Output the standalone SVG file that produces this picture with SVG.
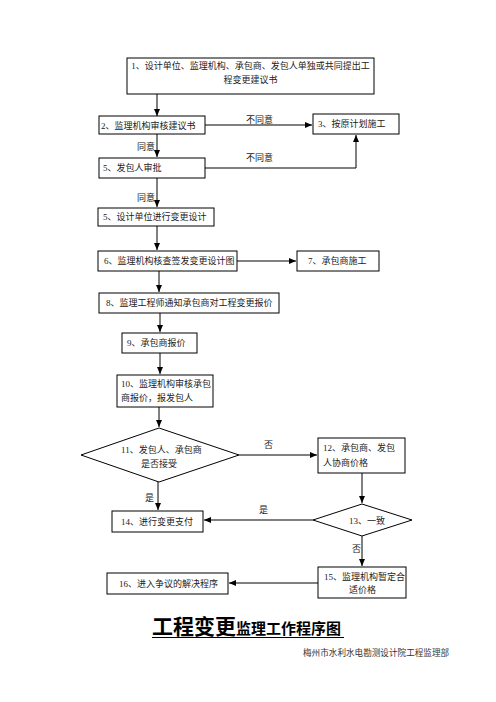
<svg xmlns="http://www.w3.org/2000/svg" width="496" height="702" viewBox="0 0 496 702">
<style>
.b{fill:#fff;stroke:#000;stroke-width:1}
.t{font-family:"Liberation Serif","Noto Sans CJK SC",serif;font-size:9px;fill:#222}
.l{fill:none;stroke:#000;stroke-width:1}
</style>
<defs>
<marker id="a" markerUnits="userSpaceOnUse" markerWidth="8" markerHeight="7" refX="7" refY="3" orient="auto">
<path d="M0,0 L7,3 L0,6 z" fill="#000"/>
</marker>
</defs>
<rect width="496" height="702" fill="#fff"/>
<g id="connectors">
<path class="l" d="M157,94 V116" marker-end="url(#a)"/>
<path class="l" d="M205,125 H312" marker-end="url(#a)"/>
<path class="l" d="M157,134 V157" marker-end="url(#a)"/>
<path class="l" d="M205,168 H356 V135" marker-end="url(#a)"/>
<path class="l" d="M157,178 V207" marker-end="url(#a)"/>
<path class="l" d="M157,226 V250" marker-end="url(#a)"/>
<path class="l" d="M237,261 H296" marker-end="url(#a)"/>
<path class="l" d="M159,271 V292" marker-end="url(#a)"/>
<path class="l" d="M160,313 V332" marker-end="url(#a)"/>
<path class="l" d="M160,353 V374" marker-end="url(#a)"/>
<path class="l" d="M159,407 V427" marker-end="url(#a)"/>
<path class="l" d="M239,455 H317" marker-end="url(#a)"/>
<path class="l" d="M362,473 V503" marker-end="url(#a)"/>
<path class="l" d="M158,482 V510" marker-end="url(#a)"/>
<path class="l" d="M313,520 H204" marker-end="url(#a)"/>
<path class="l" d="M362,536 V566" marker-end="url(#a)"/>
<path class="l" d="M318,583 H229" marker-end="url(#a)"/>
<text class="t" x="246" y="123">不同意</text>
<text class="t" x="246" y="161">不同意</text>
<text class="t" x="137" y="150">同意</text>
<text class="t" x="137" y="201">同意</text>
<text class="t" x="264" y="448">否</text>
<text class="t" x="145" y="501">是</text>
<text class="t" x="259" y="513">是</text>
<text class="t" x="352" y="552">否</text>
</g>
<g id="n1"><rect class="b" x="127" y="58" width="247" height="36"/>
<text class="t" x="250.5" y="69" text-anchor="middle">1、设计单位、监理机构、承包商、发包人单独或共同提出工</text>
<text class="t" x="250.5" y="83" text-anchor="middle">程变更建议书</text></g>
<g id="n2"><rect class="b" x="99" y="116" width="106" height="18"/>
<text class="t" x="101" y="128.5">2、监理机构审核建议书</text></g>
<g id="n3"><rect class="b" x="313" y="114" width="86" height="20"/>
<text class="t" x="318" y="127">3、按原计划施工</text></g>
<g id="n4"><rect class="b" x="99" y="158" width="106" height="20"/>
<text class="t" x="103" y="171">5、发包人审批</text></g>
<g id="n5"><rect class="b" x="98" y="208" width="116" height="18"/>
<text class="t" x="103" y="220">5、设计单位进行变更设计</text></g>
<g id="n6"><rect class="b" x="98" y="251" width="139" height="20"/>
<text class="t" x="104" y="264">6、监理机构核查签发变更设计图</text></g>
<g id="n7"><rect class="b" x="297" y="251" width="82" height="20"/>
<text class="t" x="308" y="264">7、承包商施工</text></g>
<g id="n8"><rect class="b" x="99" y="293" width="180" height="20"/>
<text class="t" x="106" y="306">8、监理工程师通知承包商对工程变更报价</text></g>
<g id="n9"><rect class="b" x="122" y="333" width="75" height="20"/>
<text class="t" x="127" y="346">9、承包商报价</text></g>
<g id="n10"><rect class="b" x="117" y="375" width="96" height="32"/>
<text class="t" x="121" y="387">10、监理机构审核承包</text>
<text class="t" x="121" y="401">商报价，报发包人</text></g>
<g id="n11"><polygon class="b" points="159,428 239,455 159,482 81,455"/>
<text class="t" x="121" y="453">11、发包人、承包商</text>
<text class="t" x="141" y="467">是否接受</text></g>
<g id="n12"><rect class="b" x="318" y="438" width="87" height="35"/>
<text class="t" x="323" y="451">12、承包商、发包</text>
<text class="t" x="323" y="466">人协商价格</text></g>
<g id="n13"><polygon class="b" points="362,504 412,520 362,536 313,520"/>
<text class="t" x="349" y="524">13、一致</text></g>
<g id="n14"><rect class="b" x="112" y="511" width="91" height="21"/>
<text class="t" x="121" y="524.5">14、进行变更支付</text></g>
<g id="n15"><rect class="b" x="318" y="567" width="88" height="31"/>
<text class="t" x="324" y="580">15、监理机构暂定合</text>
<text class="t" x="349" y="593">适价格</text></g>
<g id="n16"><rect class="b" x="107" y="573" width="121" height="21"/>
<text class="t" x="119" y="587">16、进入争议的解决程序</text></g>
<g id="title">
<text x="152" y="634" font-family="'Noto Sans CJK SC',sans-serif" font-weight="bold" fill="#000"><tspan font-size="21">工程变更</tspan><tspan font-size="15">监理工作程序图</tspan></text>
<line x1="152" y1="637.5" x2="344" y2="637.5" stroke="#000" stroke-width="1"/>
<text x="303" y="656" font-family="'Noto Sans CJK SC',sans-serif" font-size="8.6" fill="#333">梅州市水利水电勘测设计院工程监理部</text>
</g>
</svg>
